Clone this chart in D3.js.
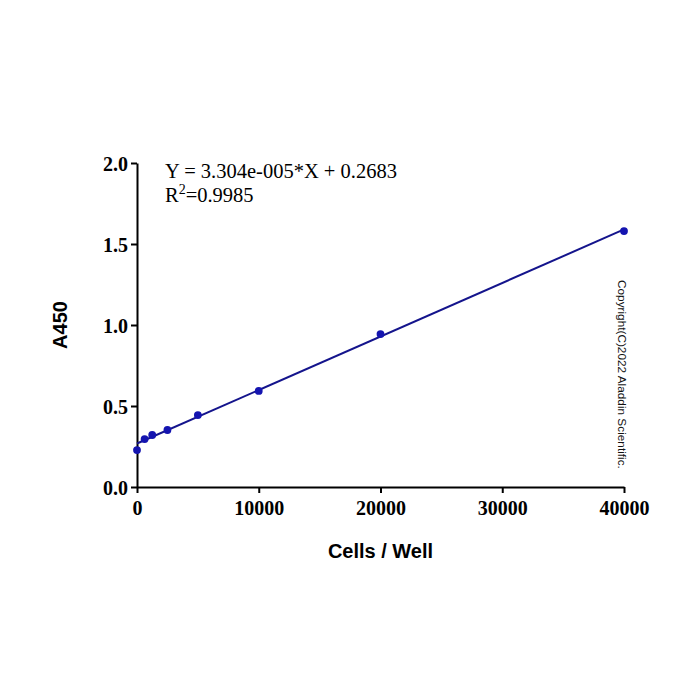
<!DOCTYPE html>
<html>
<head>
<meta charset="utf-8">
<script src="https://cdn.jsdelivr.net/npm/d3@7"></script>
<style>
  body { margin: 0; background: #fff; }
  .tick text { font-family: "Liberation Serif", "Times New Roman", serif; font-weight: bold; font-size: 20px; fill: #000; }
</style>
</head>
<body>
<div id="chart"></div>
<script>
// Standard curve data
const cellsPerWell = [0, 625, 1250, 2500, 5000, 10000, 20000, 40000];
const a450 = [0.228, 0.296, 0.321, 0.352, 0.444, 0.593, 0.944, 1.580];
const xTicks = [0, 10000, 20000, 30000, 40000];
const yTicks = [0.0, 0.5, 1.0, 1.5, 2.0];
const slope = 3.304e-5;
const intercept = 0.2683;

const width = 700, height = 700;
const margin = {top: 163, right: 76, bottom: 213, left: 137};
const innerW = width - margin.left - margin.right;
const innerH = height - margin.top - margin.bottom;

const svg = d3.select('#chart')
    .append('svg')
    .attr('width', width)
    .attr('height', height);

const g = svg.append('g')
    .attr('transform', `translate(${margin.left},${margin.top})`);

const x = d3.scaleLinear().domain([0, 40000]).range([0, innerW]);
const y = d3.scaleLinear().domain([0, 2]).range([innerH, 0]);

// Axes
const xAxis = d3.axisBottom(x).tickValues(xTicks).tickSize(6).tickSizeOuter(0).tickPadding(4)
    .tickFormat(d => d3.format('d')(d));
const yAxis = d3.axisLeft(y).tickValues(yTicks).tickSize(6).tickSizeOuter(0).tickPadding(3)
    .tickFormat(d3.format('.1f'));

const gx = g.append('g')
    .attr('transform', `translate(0,${innerH})`)
    .call(xAxis);
const gy = g.append('g').call(yAxis);

[gx, gy].forEach(a => {
    a.select('.domain').attr('stroke', '#000').attr('stroke-width', 2);
    a.selectAll('.tick line').attr('stroke', '#000').attr('stroke-width', 2);
});
gx.selectAll('.tick text').attr('dy', '0.9em');
gy.selectAll('.tick text').attr('dy', '0.35em');

// Fitted line
const line = d3.line()
    .x(d => x(d))
    .y(d => y(slope * d + intercept));

g.append('path')
    .datum([0, 40000])
    .attr('d', line)
    .attr('fill', 'none')
    .attr('stroke', '#14148c')
    .attr('stroke-width', 2);

// Points
g.selectAll('circle')
    .data(cellsPerWell.map((c, i) => ({c, v: a450[i]})))
    .enter()
    .append('circle')
    .attr('cx', d => x(d.c))
    .attr('cy', d => y(d.v))
    .attr('r', 3.9)
    .attr('fill', '#1414b0');

// Equation
const eq = g.append('g')
    .style('font-family', '"Liberation Serif", "Times New Roman", serif')
    .style('font-size', '20.5px');
eq.append('text')
    .attr('x', 28)
    .attr('y', 15)
    .text('Y = 3.304e-005*X + 0.2683');
const r2 = eq.append('text')
    .attr('x', 28)
    .attr('y', 39);
r2.append('tspan').text('R');
r2.append('tspan').attr('dy', -8).style('font-size', '14px').text('2');
r2.append('tspan').attr('dy', 8).text('=0.9985');

// Axis titles
svg.append('text')
    .attr('x', margin.left + innerW / 2)
    .attr('y', 558)
    .attr('text-anchor', 'middle')
    .style('font-family', '"Liberation Sans", Arial, sans-serif')
    .style('font-weight', 'bold')
    .style('font-size', '20px')
    .text('Cells / Well');

svg.append('text')
    .attr('transform', `translate(67,${margin.top + innerH / 2}) rotate(-90)`)
    .attr('text-anchor', 'middle')
    .style('font-family', '"Liberation Sans", Arial, sans-serif')
    .style('font-weight', 'bold')
    .style('font-size', '20px')
    .text('A450');

// Watermark
svg.append('text')
    .attr('transform', 'translate(618,280) rotate(90)')
    .style('font-family', '"Liberation Sans", Arial, sans-serif')
    .style('font-size', '11.8px')
    .attr('fill', '#111')
    .text('Copyright(C)2022 Aladdin Scientific.');
</script>
</body>
</html>
